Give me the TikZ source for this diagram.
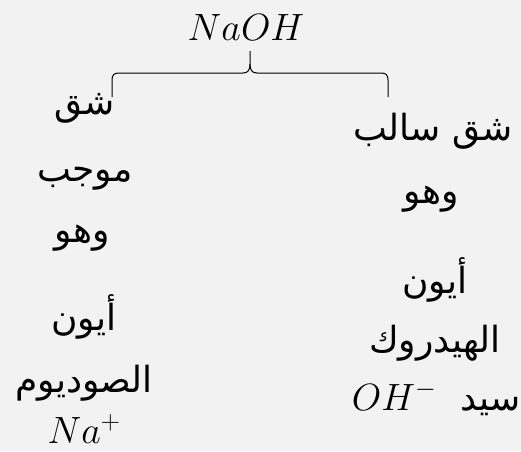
\documentclass[tikz,border=0pt]{standalone}
\usepackage{fix-cm}
\usepackage{fontspec}
\TeXXeTstate=1
\newfontfamily\arabicfont[Script=Arabic]{DejaVu Sans}
\definecolor{bg}{HTML}{F2F2F2}
\tikzset{
  ar/.style={font=\arabicfont\fontsize{36}{42}\selectfont, anchor=base, inner sep=0pt},
  mt/.style={font=\fontsize{38}{44}\selectfont, anchor=base, inner sep=0pt},
  bracepath/.style={draw=black, line width=1pt}
}
\begin{document}
\begin{tikzpicture}[x=1pt,y=-1pt]
\fill[bg] (0,0) rectangle (521,451);
\useasboundingbox (0,0) rectangle (521,451);
\node[mt] (naoh) at (246,40) {$NaOH$};
\draw[bracepath] (112,97) -- (112,80) .. controls (112,75) and (114,73) .. (119,73) -- (243,73)
  .. controls (248,73) and (250,70) .. (250,64) -- (250,51);
\draw[bracepath] (250,64) .. controls (250,70) and (252,73) .. (257,73) -- (381,73)
  .. controls (386,73) and (388,75) .. (388,80) -- (388,97);
% left column
\node[ar] (l1) at (85,114) {\beginR شق\endR};
\node[ar] (l2) at (85,181) {\beginR موجب\endR};
\node[ar] (l3) at (82,242) {\beginR وهو\endR};
\node[ar] (l4) at (84,330) {\beginR أيون\endR};
\node[ar] (l5) at (84,392) {\beginR الصوديوم\endR};
\node[mt] (l6) at (84,443) {$Na^+$};
% right column
\node[ar] (r1) at (433,140) {\beginR شق سالب\endR};
\node[ar] (r2) at (431,203) {\beginR وهو\endR};
\node[ar] (r3) at (435,293) {\beginR أيون\endR};
\node[ar] (r4) at (435,352) {\beginR الهيدروك\endR};
\node[mt] (r5) at (436,410) {$OH^-$\hspace{24pt}{\arabicfont\fontsize{36}{42}\selectfont\beginR سيد\endR}};
\end{tikzpicture}
\end{document}
